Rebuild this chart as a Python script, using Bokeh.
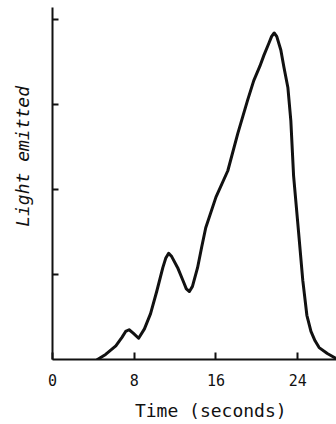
from bokeh.plotting import figure
from bokeh.models import Range1d, FixedTicker
from bokeh.embed import file_html
from bokeh.resources import INLINE

# Data (time in seconds, light emitted in arbitrary units)
time_s = [4.4, 5.2, 6.2, 6.8, 7.16, 7.5, 7.9, 8.43, 9.0, 9.6, 10.2, 10.8, 11.08,
          11.37, 11.67, 12.25, 12.8, 13.1, 13.4, 13.7, 14.2, 14.6,
          15.0, 16.0, 17.16, 18.14, 19.1, 19.7, 20.3, 20.7, 21.18, 21.45, 21.7,
          21.95, 22.35, 22.65, 23.04, 23.33, 23.6, 24.1, 24.5, 24.9, 25.3, 25.7,
          26.1, 26.9, 27.8]
light = [0.0, 0.06, 0.16, 0.26, 0.33, 0.35, 0.31, 0.25, 0.36, 0.54, 0.8, 1.08, 1.19,
         1.25, 1.21, 1.08, 0.92, 0.83, 0.8, 0.86, 1.08, 1.32,
         1.55, 1.91, 2.22, 2.66, 3.05, 3.28, 3.45, 3.58, 3.72, 3.8, 3.84,
         3.8, 3.64, 3.44, 3.2, 2.81, 2.16, 1.48, 0.93, 0.52, 0.33, 0.22,
         0.14, 0.07, 0.01]

x_ticks = [0, 8, 16, 24]
y_ticks = [1, 2, 3, 4]
x_label = "Time (seconds)"
y_label = "Light emitted"

INK = "#111111"
FONT = "DejaVu Sans Mono"
NB = "\u00a0"

p = figure(width=336, height=424, output_backend="svg", toolbar_location=None,
           title=None,
           x_range=Range1d(0, 27.8), y_range=Range1d(0, 4.14),
           min_border_left=52, min_border_right=0, min_border_top=7,
           min_border_bottom=65)
p.outline_line_color = None
p.xgrid.visible = False
p.ygrid.visible = False
p.background_fill_color = "white"
p.border_fill_color = "white"

p.line(time_s, light, line_color=INK, line_width=3, line_join="round", line_cap="round")

xa = p.xaxis[0]
xa.ticker = FixedTicker(ticks=x_ticks)
xa.minor_tick_line_color = None
xa.major_tick_in = 7
xa.major_tick_out = 0
xa.axis_line_width = 2
xa.axis_line_color = INK
xa.major_tick_line_width = 2
xa.major_tick_line_color = INK
xa.major_label_text_font = FONT
xa.major_label_text_font_size = "15px"
xa.major_label_text_color = INK
xa.major_label_standoff = 14
xa.axis_label = NB * 3 + x_label
xa.axis_label_text_font = FONT
xa.axis_label_text_font_size = "18px"
xa.axis_label_text_font_style = "normal"
xa.axis_label_text_color = INK
xa.axis_label_standoff = 11

ya = p.yaxis[0]
ya.ticker = FixedTicker(ticks=y_ticks)
ya.minor_tick_line_color = None
ya.major_tick_in = 6
ya.major_tick_out = 0
ya.axis_line_width = 2
ya.axis_line_color = INK
ya.major_tick_line_width = 2
ya.major_tick_line_color = INK
ya.major_label_text_color = None
ya.major_label_text_font_size = "1px"
ya.major_label_standoff = 0
ya.axis_label = NB * 5 + y_label
ya.axis_label_text_font = FONT
ya.axis_label_text_font_size = "18px"
ya.axis_label_text_font_style = "italic"
ya.axis_label_text_color = INK
ya.axis_label_standoff = 20

open("out.html", "w").write(file_html(p, INLINE))
